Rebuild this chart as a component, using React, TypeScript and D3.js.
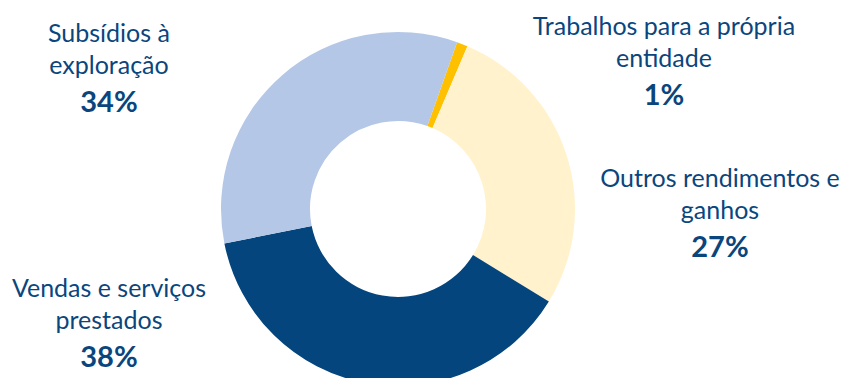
import React from "react";
import * as d3 from "d3";

const categories = [
  "Trabalhos para a própria entidade",
  "Outros rendimentos e ganhos",
  "Vendas e serviços prestados",
  "Subsídios à exploração",
];
const values = [1.0, 27.4, 38.2, 33.6];
const labelLines = [
  ["Trabalhos para a própria", "entidade"],
  ["Outros rendimentos e", "ganhos"],
  ["Vendas e serviços", "prestados"],
  ["Subsídios à", "exploração"],
];
const percentLabels = ["1%", "27%", "38%", "34%"];
const colors = ["#FFC000", "#FFF2CC", "#03457C", "#B4C7E7"];

const W = 841;
const H = 378;
const cx = 398;
const cy = 209;
const outerR = 177;
const innerR = 88;
const startDeg = 19.5;

// label anchor centers (x) and first baseline (y)
const labelPos = [
  { x: 664, y: 35 },
  { x: 720, y: 187 },
  { x: 109, y: 297 },
  { x: 109, y: 42 },
];

const textColor = "#0A467D";
const font = "Lato, 'Open Sans', sans-serif";

export default function App() {
  const pie = d3
    .pie<number>()
    .sort(null)
    .value((d) => d)
    .startAngle((startDeg * Math.PI) / 180)
    .endAngle((startDeg * Math.PI) / 180 + 2 * Math.PI);
  const arcs = pie(values);
  const arc = d3.arc<d3.PieArcDatum<number>>().innerRadius(innerR).outerRadius(outerR);

  return (
    <svg
      width={W}
      height={H}
      style={{ position: "absolute", left: 0, top: 0, background: "#fff" }}
      viewBox={`0 0 ${W} ${H}`}
    >
      <g transform={`translate(${cx},${cy})`}>
        {arcs.map((a, i) => (
          <path key={categories[i]} d={arc(a) || ""} fill={colors[i]} />
        ))}
      </g>
      {labelPos.map((p, i) => (
        <g key={"l" + i} fill={textColor} fontFamily={font} textAnchor="middle">
          <text x={p.x} y={p.y} fontSize={25}>
            {labelLines[i][0]}
          </text>
          <text x={p.x} y={p.y + 32} fontSize={25}>
            {labelLines[i][1]}
          </text>
          <text x={p.x} y={p.y + 70} fontSize={29} fontWeight="bold">
            {percentLabels[i]}
          </text>
        </g>
      ))}
    </svg>
  );
}
